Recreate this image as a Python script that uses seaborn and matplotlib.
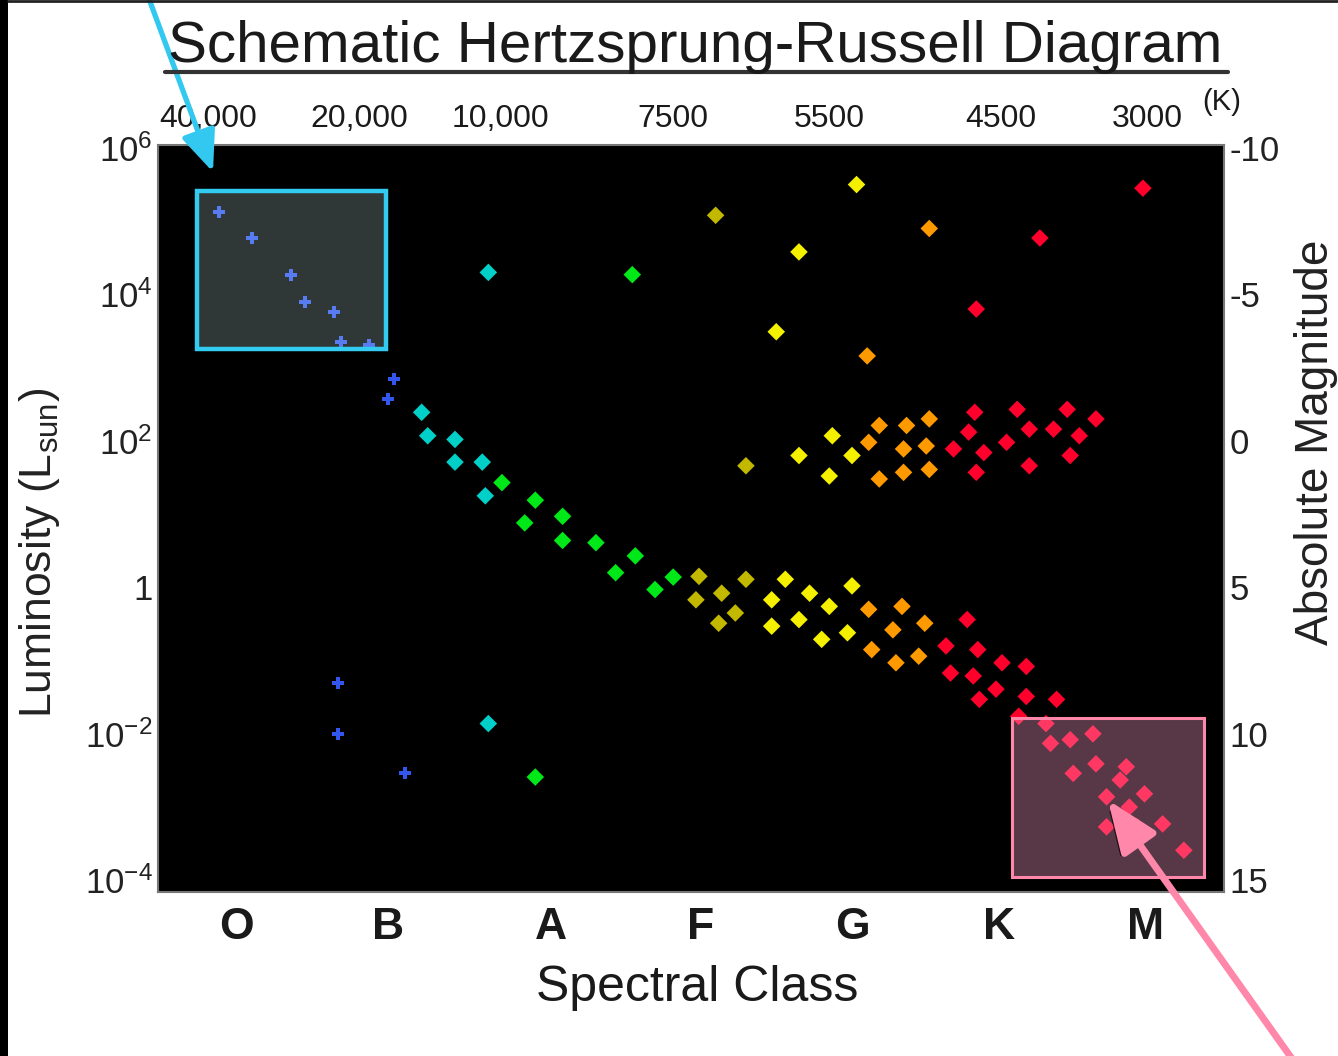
import numpy as np
import pandas as pd
import seaborn as sns
import matplotlib
matplotlib.use("Agg")
import matplotlib.pyplot as plt
import matplotlib.font_manager as fm
import matplotlib.patheffects as pe
from matplotlib.patches import Rectangle
from matplotlib.lines import Line2D

# ---------------- data ----------------
spectral_classes = ['O', 'B', 'A', 'F', 'G', 'K', 'M']
class_positions = [0.0, 1.0, 2.07, 3.06, 4.06, 5.03, 6.0]
temp_labels = ['40,000', '20,000', '10,000', '7500', '5500', '4500', '3000']
temp_positions = [-0.19, 0.81, 1.74, 2.88, 3.91, 5.04, 6.01]
lum_ticks = [1e-4, 1e-2, 1, 1e2, 1e4, 1e6]
lum_labels = ['$10^{-4}$', '$10^{-2}$', '1', '$10^{2}$', '$10^{4}$', '$10^{6}$']
mag_ticks = [-10, -5, 0, 5, 10, 15]
mag_labels = ['-10', '-5', '0', '5', '10', '15']

blue_x = [-0.12, 0.10, 0.36, 0.45, 0.64, 0.69, 0.87, 1.04, 1.00, 0.67, 0.67, 1.11]
blue_logL = [5.13, 4.77, 4.27, 3.89, 3.76, 3.35, 3.31, 2.84, 2.57, -1.31, -2.00, -2.54]

cyan_x = [1.66, 1.22, 1.26, 1.44, 1.44, 1.62, 1.64, 1.66]
cyan_logL = [4.30, 2.39, 2.07, 2.02, 1.71, 1.71, 1.25, -1.86]

green_x = [2.61, 1.75, 1.97, 1.90, 2.15, 2.15, 2.37, 2.63, 2.50, 2.76, 2.88, 1.97]
green_logL = [4.27, 1.43, 1.19, 0.88, 0.97, 0.64, 0.61, 0.43, 0.20, -0.03, 0.14, -2.59]

olive_x = [3.16, 3.36, 3.05, 3.03, 3.20, 3.36, 3.29, 3.18]
olive_logL = [5.08, 1.66, 0.15, -0.17, -0.08, 0.11, -0.35, -0.49]

yellow_x = [4.09, 3.71, 3.56, 3.93, 3.71, 4.06, 3.91, 3.62, 3.53, 3.78, 3.53, 3.71, 3.91, 4.06, 3.86, 4.03]
yellow_logL = [5.50, 4.58, 3.49, 2.07, 1.80, 1.80, 1.52, 0.11, -0.17, -0.08, -0.53, -0.44, -0.26, 0.02, -0.71, -0.62]

orange_x = [4.57, 4.16, 4.24, 4.42, 4.57, 4.17, 4.40, 4.55, 4.24, 4.40, 4.57,
            4.17, 4.39, 4.33, 4.19, 4.35, 4.50, 4.54]
orange_logL = [4.90, 3.16, 2.21, 2.21, 2.30, 1.98, 1.89, 1.93, 1.48, 1.57, 1.61,
               -0.30, -0.26, -0.58, -0.85, -1.03, -0.94, -0.49]

red_x = [5.98, 5.30, 4.88, 4.87, 4.83, 4.73, 4.93, 4.88, 5.15, 5.23, 5.08, 5.23, 5.39, 5.48, 5.56, 5.50, 5.67,
         4.82, 4.68, 4.89, 5.05, 5.21, 4.71, 4.86, 5.01, 4.90, 5.21, 5.41, 5.16,
         5.34, 5.37, 5.50, 5.65, 5.52, 5.67, 5.87, 5.83, 5.74, 5.99, 5.89, 5.74, 5.94, 6.11, 6.25]
red_logL = [5.45, 4.77, 3.80, 2.39, 2.12, 1.89, 1.84, 1.57, 2.43, 2.16, 1.98, 1.66, 2.16, 2.43, 2.07, 1.80, 2.30,
            -0.44, -0.80, -0.85, -1.03, -1.08, -1.17, -1.21, -1.39, -1.53, -1.49, -1.53, -1.76,
            -1.86, -2.13, -2.08, -2.00, -2.54, -2.41, -2.45, -2.63, -2.86, -2.82, -3.00, -3.27, -3.27, -3.23, -3.59]

groups = {
    'blue': (blue_x, blue_logL),
    'cyan': (cyan_x, cyan_logL),
    'green': (green_x, green_logL),
    'olive': (olive_x, olive_logL),
    'yellow': (yellow_x, yellow_logL),
    'orange': (orange_x, orange_logL),
    'red': (red_x, red_logL),
}
palette = {'blue': '#3356ee', 'cyan': '#00d0c8', 'green': '#00e818', 'olive': '#c2b800',
           'yellow': '#f4f000', 'orange': '#ff9900', 'red': '#ff002c'}
markers = {g: ('P' if g == 'blue' else 'D') for g in groups}
sizes = {g: (75 if g == 'blue' else 80) for g in groups}

rows = []
for g, (xs, ls) in groups.items():
    for x, l in zip(xs, ls):
        rows.append({'spec': x, 'L': 10 ** l, 'group': g})
df = pd.DataFrame(rows)

# ---------------- style ----------------
sns.set_theme(style='white')
available = {f.name for f in fm.fontManager.ttflist}
base = 'Liberation Sans' if 'Liberation Sans' in available else 'DejaVu Sans'
narrow = 'Liberation Sans Narrow' if 'Liberation Sans Narrow' in available else base
plt.rcParams['font.family'] = [base, 'DejaVu Sans']
plt.rcParams['mathtext.default'] = 'regular'
txt = '#1a1a1a'

W, H = 1338, 1056
fig = plt.figure(figsize=(W / 100, H / 100), dpi=100)
fig.patch.set_facecolor('white')
L0, R0, T0, B0 = 158, 1224, 145, 892
ax = fig.add_axes([L0 / W, 1 - B0 / H, (R0 - L0) / W, (B0 - T0) / H])
ax.set_facecolor('black')

sns.scatterplot(data=df, x='spec', y='L', hue='group', style='group', size='group',
                palette=palette, markers=markers, sizes=sizes, linewidth=0,
                legend=False, ax=ax, zorder=3)

ax.set_yscale('log')
LOG_LO, LOG_HI = -4.16, 6.04
ax.set_ylim(10 ** LOG_LO, 10 ** LOG_HI)
ax.set_xlim(-0.52, 6.515)
ax.set_xlabel('')
ax.set_ylabel('')

ax.set_xticks(class_positions, spectral_classes, fontsize=32,
              fontweight='bold', color=txt)
ax.set_yticks(lum_ticks, lum_labels, fontsize=25, fontfamily=narrow, color='#222')
ax.minorticks_off()
ax.tick_params(axis='x', length=0, pad=11)
ax.tick_params(axis='y', length=0, pad=4)
for s in ax.spines.values():
    s.set_color('#777777')
    s.set_linewidth(1.5)

# top temperature axis
secx = ax.secondary_xaxis('top')
secx.set_xticks(temp_positions, temp_labels, fontsize=23, color=txt)
secx.tick_params(length=0, pad=8)
secx.spines['top'].set_visible(False)

# right magnitude axis (M = 5 - 2.5 log10 L)
def lum_to_mag(logL):
    return 5 - 2.5 * logL

twin = ax.twinx()
twin.set_ylim(lum_to_mag(LOG_LO), lum_to_mag(LOG_HI))
twin.set_yticks(mag_ticks, mag_labels, fontsize=25, fontfamily=narrow, color='#222')
twin.tick_params(axis='y', length=0, pad=4)
twin.grid(False)
for s in twin.spines.values():
    s.set_visible(False)

# highlight boxes (drawn over the points)
ax.add_patch(Rectangle((-0.264, 10 ** 3.25), 0.983 + 0.264, 10 ** 5.41 - 10 ** 3.25,
                       facecolor=(0.86, 1.0, 1.0, 0.22), edgecolor='#33ccf0',
                       linewidth=3.2, zorder=5))
ax.add_patch(Rectangle((5.114, 10 ** -3.96), 6.383 - 5.114, 10 ** -1.78 - 10 ** -3.96,
                       facecolor=(1.0, 0.63, 0.80, 0.35), edgecolor='#ff88aa',
                       linewidth=2.2, zorder=5))

# texts
fig.text(695 / W, 1 - 62 / H, 'Schematic Hertzsprung-Russell Diagram', ha='center',
         va='baseline', fontsize=42, color=txt)
fig.add_artist(Line2D([165 / W, 1228 / W], [1 - 72 / H, 1 - 72 / H], lw=3, color='#333333'))
fig.text(1222 / W, 1 - 102 / H, '(K)', ha='center', va='center', fontsize=21, color=txt)
fig.text(40 / W, 1 - 553 / H, 'Luminosity (L$_{sun}$)', rotation=90, ha='center',
         va='center', fontsize=32, color='#222')
fig.text(1316 / W, 1 - 442 / H, 'Absolute Magnitude', rotation=90, ha='center',
         va='center', fontsize=33, color='#222')
fig.text(697 / W, 1 - 988 / H, 'Spectral Class', ha='center', va='center',
         fontsize=36, color=txt)

# arrows
ax.annotate('', xy=(213, H - 172), xycoords='figure pixels',
            xytext=(145, H + 12), textcoords='figure pixels',
            arrowprops=dict(arrowstyle='-|>,head_length=1.0,head_width=0.42',
                            lw=3.8, color='#33c8f0', mutation_scale=25,
                            shrinkA=0, shrinkB=0),
            annotation_clip=False, zorder=10)
ax.annotate('', xy=(1108, H - 800), xycoords='figure pixels',
            xytext=(1300, -14), textcoords='figure pixels',
            arrowprops=dict(arrowstyle='-|>,head_length=1.05,head_width=0.42',
                            lw=5, color='#ff88aa', mutation_scale=30,
                            shrinkA=0, shrinkB=0,
                            path_effects=[pe.withSimplePatchShadow(offset=(-3, -2),
                                                                  shadow_rgbFace='black',
                                                                  alpha=0.7)]),
            annotation_clip=False, zorder=10)

# screenshot edges
fig.add_artist(Rectangle((0, 0), 8 / W, 1, transform=fig.transFigure,
                         facecolor='black', edgecolor='none'))
fig.add_artist(Line2D([8 / W, 1], [1 - 1 / H, 1 - 1 / H], lw=2, color='#222222'))

fig.savefig('out.png', dpi=100, facecolor='white')
